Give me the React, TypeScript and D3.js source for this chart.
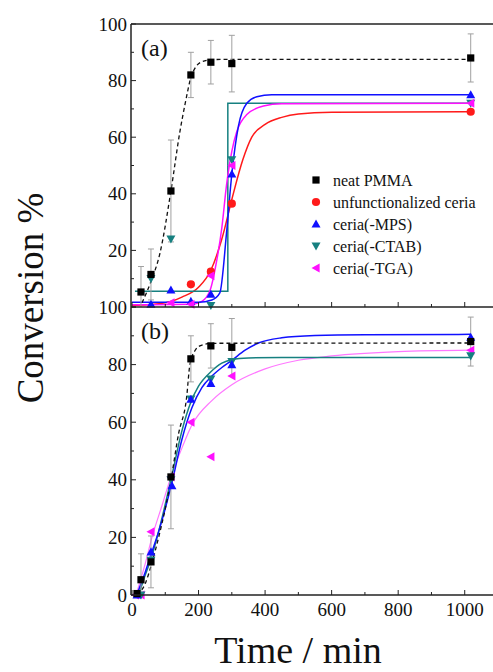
import * as d3 from "d3";

type P = [number, number];

// ---- data ----
const pmmaPts: P[] = [[15, 0.5], [27, 5.3], [57, 11.5], [117, 41], [177, 82], [237, 86.5], [300, 86], [1018, 88]];
const pmmaErr = [0, 9, 9, 18, 8, 7.7, 10, 8.5];

// panel (a)
const ceriaPtsA: P[] = [[177, 8], [237, 12.5], [300, 36.5], [1018, 69]];
const mpsPtsA: P[] = [[57, 1], [117, 6], [177, 2], [237, 4.5], [300, 47], [1018, 75]];
const ctabPtsA: P[] = [[57, 10], [117, 24], [237, 0.5], [300, 52], [1018, 72]];
const tgaPtsA: P[] = [[117, 1.5], [177, 1], [237, 11], [300, 50], [1018, 72]];

const pmmaFitA: P[] = [[30, 1.5], [57, 9], [84, 19], [117, 41], [144, 62], [160, 72], [177, 81], [207, 86.5], [240, 87.4], [280, 87.5], [1018, 87.5]];
const ceriaFitA: P[] = [[0, 0.5], [100, 1.5], [150, 3.5], [200, 7], [237, 13], [270, 24], [300, 38], [333, 52], [360, 60], [400, 64.5], [450, 67], [500, 68.2], [600, 68.8], [1018, 69]];
const mpsFitA: P[] = [[0, 1.7], [200, 1.7], [240, 2.5], [264, 5], [284, 26], [300, 47], [320, 64], [345, 72], [375, 74.3], [420, 75], [1018, 75]];
const ctabFitA: P[] = [[9, 5.6], [288, 5.6], [288, 72], [1018, 72]];
const tgaFitA: P[] = [[0, 0.8], [180, 1], [210, 2], [235, 6], [254, 16], [270, 28], [284, 43], [300, 55], [315, 62], [345, 68], [395, 71], [450, 71.8], [1018, 72]];

// panel (b)
const mpsPtsB: P[] = [[15, 0], [57, 15], [120, 38], [177, 68], [237, 73.5], [300, 80], [1018, 89.5]];
const ctabPtsB: P[] = [[27, 0], [57, 12], [117, 40], [177, 68], [237, 75], [300, 81], [1018, 83]];
const tgaPtsB: P[] = [[10, 0], [27, 0], [57, 22], [117, 41], [177, 60], [237, 48], [300, 76], [1018, 85]];

const pmmaFitB: P[] = [[15, 0], [40, 4], [57, 10], [80, 20], [100, 30], [117, 40], [140, 56], [164, 68.5], [174, 80], [190, 85], [204, 86.5], [240, 87.4], [1018, 87.5]];
const mpsFitB: P[] = [[14, 0], [40, 8], [57, 14], [80, 22], [100, 30], [120, 39], [150, 54], [180, 65], [210, 72], [240, 76], [270, 79], [300, 81.5], [340, 85], [380, 87.5], [450, 89.3], [550, 90.1], [700, 90.4], [1018, 90.5]];
const ctabFitB: P[] = [[20, 0], [40, 7], [57, 12.5], [80, 22], [117, 40], [150, 57], [177, 67], [200, 72.5], [237, 77.5], [270, 80.5], [300, 81.7], [350, 82.3], [450, 82.5], [1018, 82.5]];
const tgaFitB: P[] = [[12, 0], [40, 11], [60, 20], [90, 31], [117, 41], [150, 51], [180, 59], [240, 67.5], [300, 73], [400, 78.5], [500, 81.5], [600, 83], [800, 84.5], [1018, 85]];

const legendNames = ["neat PMMA", "unfunctionalized ceria", "ceria(-MPS)", "ceria(-CTAB)", "ceria(-TGA)"];
const legendShapes = ["square", "circle", "up", "down", "left"];
const colors = ["#000000", "#ff1a1a", "#1010ff", "#168080", "#ff10ff"];

const W = 493;
const H = 672;
const font = "'Liberation Serif', 'DejaVu Serif', serif";

const x = d3.scaleLinear().domain([0, 1100]).range([132, 498]);
const yA = d3.scaleLinear().domain([0, 100]).range([307, 24]);
const yB = d3.scaleLinear().domain([0, 100]).range([595, 307]);

const Marker = ({ shape, cx, cy, fill }: { shape: string; cx: number; cy: number; fill: string }) => {
  const r = 3.6;
  if (shape === "square") return <rect x={cx - r} y={cy - r} width={2 * r} height={2 * r} fill={fill} />;
  if (shape === "circle") return <circle cx={cx} cy={cy} r={r + 0.5} fill={fill} />;
  const s = r + 0.9;
  let pts = "";
  if (shape === "up") pts = `${cx},${cy - s} ${cx + s},${cy + s * 0.8} ${cx - s},${cy + s * 0.8}`;
  if (shape === "down") pts = `${cx},${cy + s} ${cx + s},${cy - s * 0.8} ${cx - s},${cy - s * 0.8}`;
  if (shape === "left") pts = `${cx - s},${cy} ${cx + s * 0.8},${cy - s} ${cx + s * 0.8},${cy + s}`;
  return <polygon points={pts} fill={fill} />;
};

const Panel = ({ y, label, fits, series, clipId, showTop }: any) => {
  const line = d3.line<P>().x(d => x(d[0])).y(d => y(d[1])).curve(d3.curveMonotoneX);
  const linLine = d3.line<P>().x(d => x(d[0])).y(d => y(d[1]));
  const [y0, y1] = y.range();
  return (
    <g>
      <defs>
        <clipPath id={clipId}>
          <rect x={132} y={y1} width={W} height={y0 - y1} />
        </clipPath>
      </defs>
      <g clipPath={`url(#${clipId})`}>
        {fits.map((f: any, i: number) => (
          <path key={i} d={(f.step ? linLine : line)(f.data) || ""} fill="none" stroke={f.color}
            strokeWidth={f.width || 1.5} strokeDasharray={f.dash || null} />
        ))}
      </g>
      {/* error bars of neat PMMA */}
      {pmmaPts.map((d, i) => pmmaErr[i] > 0 && (
        <g key={"e" + i} stroke="#a0a0a0" strokeWidth={1}>
          <line x1={x(d[0])} x2={x(d[0])} y1={y(d[1] + pmmaErr[i])} y2={y(Math.max(0, d[1] - pmmaErr[i]))} />
          <line x1={x(d[0]) - 3} x2={x(d[0]) + 3} y1={y(d[1] + pmmaErr[i])} y2={y(d[1] + pmmaErr[i])} />
          {d[1] - pmmaErr[i] > 0 && <line x1={x(d[0]) - 3} x2={x(d[0]) + 3} y1={y(d[1] - pmmaErr[i])} y2={y(d[1] - pmmaErr[i])} />}
        </g>
      ))}
      {series.map((s: any, i: number) => s.data.map((d: P, j: number) => (
        <Marker key={i + "-" + j} shape={s.shape} cx={x(d[0])} cy={y(d[1])} fill={s.color} />
      )))}
      {/* axes */}
      <line x1={131} x2={131} y1={y1} y2={y0} stroke="#222" strokeWidth={1.5} />
      <line x1={131} x2={W} y1={y0} y2={y0} stroke="#222" strokeWidth={1.5} />
      {showTop && <line x1={131} x2={W} y1={y1} y2={y1} stroke="#222" strokeWidth={1.5} />}
      {d3.range(0, 1100, 100).map(t => (
        <line key={"xt" + t} x1={x(t)} x2={x(t)} y1={y0} y2={y0 - (t % 200 === 0 ? 5 : 3)} stroke="#222" strokeWidth={1} />
      ))}
      {d3.range(0, 101, 10).map(v => (
        <line key={"yt" + v} x1={131} x2={131 + (v % 20 === 0 ? 5 : 3)} y1={y(v)} y2={y(v)} stroke="#222" strokeWidth={1} />
      ))}
      {y.ticks(5).filter((v: number) => !(showTop && v === 0)).map((v: number) => (
        <text key={"yl" + v} x={127} y={y(v)} dy="0.35em" textAnchor="end" fontSize={19} fontFamily={font} fill="#111">{v}</text>
      ))}
      <text x={141} y={y1 + 32} fontSize={24} fontFamily={font} fill="#111">{label}</text>
    </g>
  );
};

export default function App() {
  const fitsA = [
    { data: ceriaFitA, color: colors[1] },
    { data: ctabFitA, color: colors[3], step: true },
    { data: tgaFitA, color: colors[4] },
    { data: mpsFitA, color: colors[2] },
    { data: pmmaFitA, color: "#111", dash: "4,3", width: 1.3 },
  ];
  const seriesA = [
    { data: ceriaPtsA, color: colors[1], shape: "circle" },
    { data: mpsPtsA, color: colors[2], shape: "up" },
    { data: ctabPtsA, color: colors[3], shape: "down" },
    { data: tgaPtsA, color: colors[4], shape: "left" },
    { data: pmmaPts.slice(1), color: colors[0], shape: "square" },
  ];
  const fitsB = [
    { data: tgaFitB, color: "#ff77ff", width: 1.2 },
    { data: ctabFitB, color: colors[3] },
    { data: mpsFitB, color: colors[2] },
    { data: pmmaFitB, color: "#111", dash: "4,3", width: 1.3 },
  ];
  const seriesB = [
    { data: tgaPtsB, color: colors[4], shape: "left" },
    { data: ctabPtsB, color: colors[3], shape: "down" },
    { data: mpsPtsB, color: colors[2], shape: "up" },
    { data: pmmaPts, color: colors[0], shape: "square" },
  ];
  const legY = d3.scalePoint<string>().domain(legendNames).range([180, 268]);
  return (
    <svg width={W} height={H} style={{ position: "absolute", left: 0, top: 0, background: "#fff" }}>
      <rect width={W} height={H} fill="#fff" />
      <Panel y={yA} label="(a)" fits={fitsA} series={seriesA} clipId="clipA" showTop={true} />
      <Panel y={yB} label="(b)" fits={fitsB} series={seriesB} clipId="clipB" showTop={false} />
      {legendNames.map((n, i) => (
        <g key={n}>
          <Marker shape={legendShapes[i]} cx={316} cy={legY(n)!} fill={colors[i]} />
          <text x={333} y={legY(n)!} dy="0.35em" fontSize={16} fontFamily={font} fill="#111">{n}</text>
        </g>
      ))}
      {x.ticks(6).filter(t => t <= 1000).map(t => (
        <text key={t} x={x(t)} y={616} textAnchor="middle" fontSize={19} fontFamily={font} fill="#111">{t}</text>
      ))}
      <text x={298} y={663} textAnchor="middle" fontSize={38} fontFamily={font} fill="#111">Time / min</text>
      <text transform="translate(43,298) rotate(-90)" textAnchor="middle" fontSize={37} fontFamily={font} fill="#111">Conversion %</text>
    </svg>
  );
}
